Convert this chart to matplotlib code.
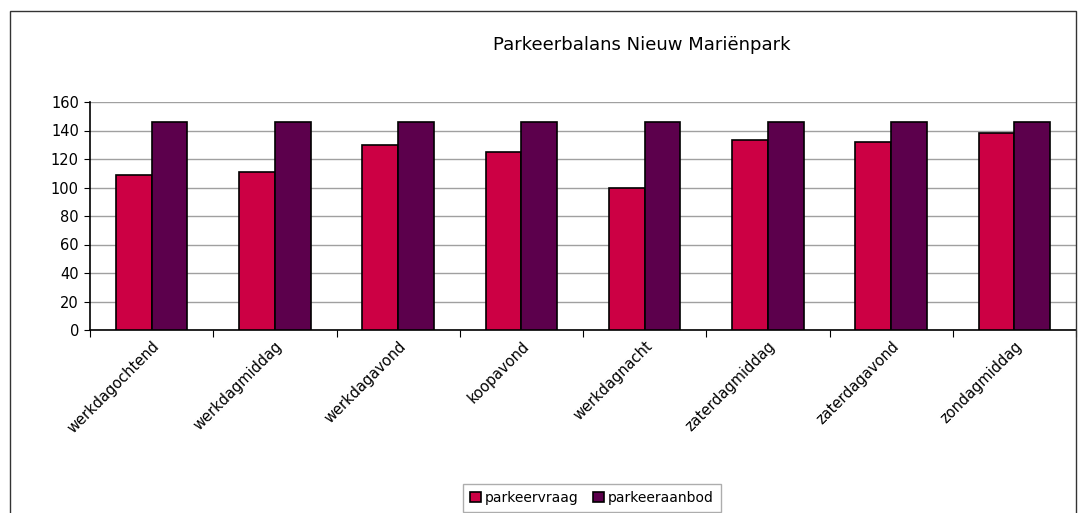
import matplotlib.pyplot as plt
import numpy as np
from matplotlib.patches import Rectangle

plt.rcParams['font.family'] = ['Liberation Sans Narrow', 'DejaVu Sans']

categories = ["werkdagochtend", "werkdagmiddag", "werkdagavond", "koopavond",
              "werkdagnacht", "zaterdagmiddag", "zaterdagavond", "zondagmiddag"]
parkeervraag = [109, 111, 130, 125, 100, 133, 132, 138]
parkeeraanbod = [146, 146, 146, 146, 146, 146, 146, 146]

fig = plt.figure(figsize=(10.78, 5.13), dpi=100)
ax = fig.add_axes([90 / 1078, 1 - 330 / 513, (1076 - 90) / 1078, (330 - 102) / 513])

# outer chart border
fig.patches.append(Rectangle((10 / 1078, -0.1), (1076 - 10) / 1078, 1.1 - 11 / 513,
                             transform=fig.transFigure, fill=False,
                             edgecolor="#333333", linewidth=1))

x = np.arange(len(categories))
w = 0.29
ax.bar(x - w / 2, parkeervraag, w, color="#CC0044", edgecolor="black",
       linewidth=1.2, label="parkeervraag", zorder=3)
ax.bar(x + w / 2, parkeeraanbod, w, color="#5C004C", edgecolor="black",
       linewidth=1.2, label="parkeeraanbod", zorder=3)

ax.set_xlim(-0.5, len(categories) - 0.5)
ax.set_ylim(0, 160)
ax.set_yticks(range(0, 161, 20))
ax.yaxis.grid(True, color="#a0a0a0", linewidth=1, zorder=0)
ax.set_xticks(np.arange(len(categories) + 1) - 0.5)
ax.set_xticklabels([])
ax.set_xticks(x, minor=True)
ax.set_xticklabels(categories, minor=True, rotation=45, ha="right",
                   rotation_mode="anchor", fontsize=10.5)
ax.tick_params(axis="x", which="minor", length=0, pad=6)
ax.tick_params(axis="x", which="major", length=5, direction="out")
ax.tick_params(axis="y", length=4, labelsize=10.5, pad=4)
for s in ["top", "right"]:
    ax.spines[s].set_visible(False)
for s in ["left", "bottom"]:
    ax.spines[s].set_color("black")
    ax.spines[s].set_linewidth(1.2)

fig.text(642 / 1078, 1 - 45 / 513, "Parkeerbalans Nieuw Mariënpark",
         ha="center", va="center", fontsize=13)

leg = fig.legend(loc="center", bbox_to_anchor=(592 / 1078, 1 - 498 / 513), ncol=2,
                 fontsize=10, frameon=True, fancybox=False, edgecolor="#999999",
                 handlelength=0.8, handleheight=0.8, handletextpad=0.3,
                 columnspacing=1.0, borderpad=0.5)
leg.get_frame().set_linewidth(1)

fig.savefig("out.png", dpi=100)
